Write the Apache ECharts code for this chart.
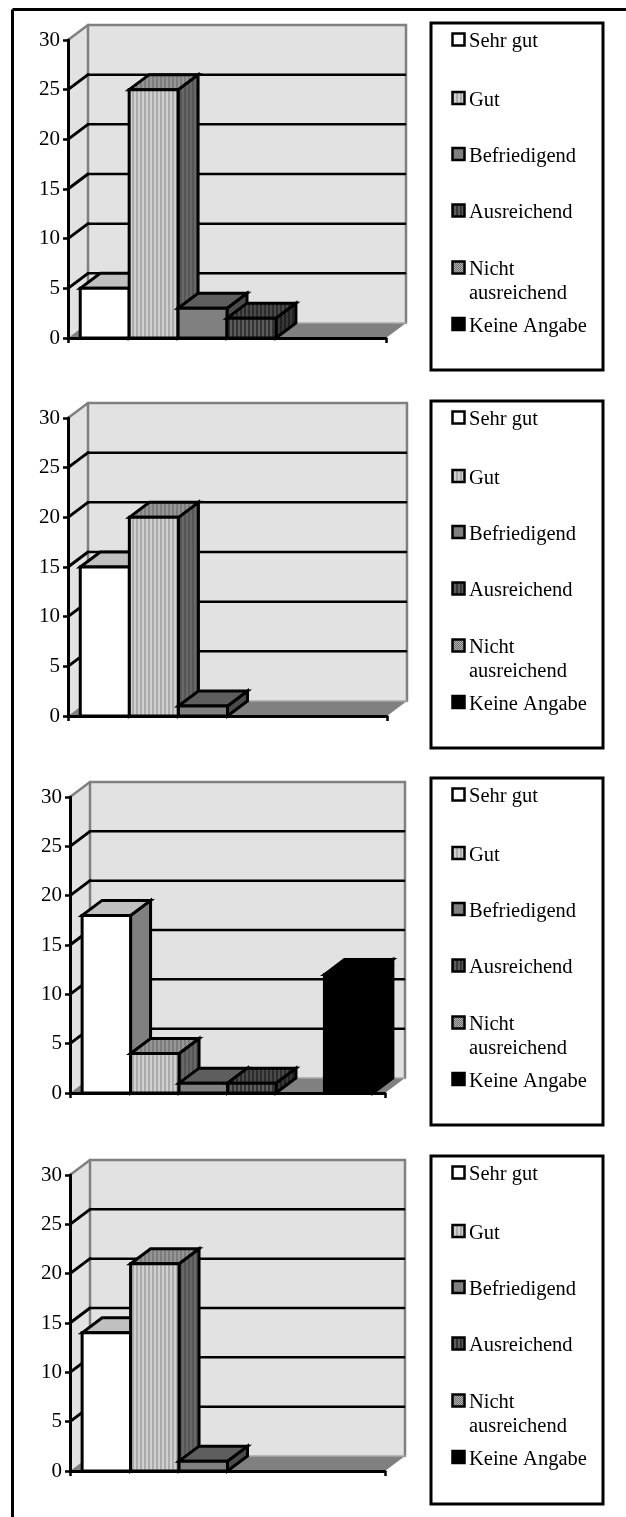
<!DOCTYPE html>
<html><head><meta charset="utf-8">
<style>html,body{margin:0;padding:0;background:#fff}#c{width:626px;height:1517px}</style>
<script src="https://cdn.jsdelivr.net/npm/echarts@6/dist/echarts.min.js"></script>
</head><body><div id="c"></div>
<script>
const ratings = ['Sehr gut','Gut','Befriedigend','Ausreichend','Nicht\nausreichend','Keine Angabe'];
const panel1Values = [5,25,3,2,0,0];
const panel2Values = [15,20,1,0,0,0];
const panel3Values = [18,4,1,1,0,12];
const panel4Values = [14,21,1,0,0,0];
const panelValues = [panel1Values,panel2Values,panel3Values,panel4Values];
const yTicks = [0,5,10,15,20,25];
const yMax = 30, yStep = 5;

// layout (pixels)
const layouts = [
  {x0:68,x1:386,yTop:40,yBot:338,boxTop:23,boxBot:370},
  {x0:68,x1:387,yTop:418,yBot:716,boxTop:401,boxBot:748},
  {x0:70,x1:385,yTop:797,yBot:1093,boxTop:778,boxBot:1125},
  {x0:70,x1:385,yTop:1175,yBot:1471,boxTop:1156,boxBot:1504}
];
const legendOffsets = [16.5,75,131,187.5,244.5,301];
const DX = 20, DY = -15, X_UNITS = 6.5, BAR_OFFSET = 0.25;
const FONT = '"Liberation Serif","Times New Roman",serif';

function pat(w,h,draw){
  const c=document.createElement('canvas');c.width=w;c.height=h;
  draw(c.getContext('2d'));
  return {image:c,repeat:'repeat'};
}
function vstripes(a,b){return pat(4,2,g=>{g.fillStyle=a;g.fillRect(0,0,4,2);g.fillStyle=b;g.fillRect(0,0,2,2);});}
function dither(a,b){return pat(2,2,g=>{g.fillStyle=a;g.fillRect(0,0,2,2);g.fillStyle=b;g.fillRect(0,0,1,1);g.fillRect(1,1,1,1);});}
const faces = [
  {front:'#ffffff',top:'#c0c0c0',side:'#808080',edge:'#000'},
  {front:vstripes('#d0d0d0','#ababab'),top:vstripes('#969696','#7c7c7c'),side:vstripes('#686868','#565656'),edge:'#000'},
  {front:dither('#868686','#7a7a7a'),top:dither('#646464','#585858'),side:dither('#505050','#464646'),edge:'#000'},
  {front:vstripes('#5c5c5c','#343434'),top:vstripes('#4a4a4a','#2c2c2c'),side:vstripes('#383838','#222222'),edge:'#000'},
  {front:dither('#b0b0b0','#707070'),top:dither('#808080','#505050'),side:dither('#606060','#404040'),edge:'#000'},
  {front:'#000',top:'#000',side:'#000',edge:'#000'}
];

function poly(points,fill,stroke,lw){
  return {type:'polygon',shape:{points},style:{fill,stroke:stroke||'none',lineWidth:lw||0,lineJoin:'miter'}};
}
function line(p,q,stroke,lw){
  return {type:'line',shape:{x1:p[0],y1:p[1],x2:q[0],y2:q[1]},style:{stroke,lineWidth:lw,lineCap:'round'}};
}
function renderWalls(params,api){
  const v = api.value(1);
  const a = api.coord([0,v]), b = api.coord([X_UNITS,v]);
  const backL=[a[0]+DX,a[1]+DY], backR=[b[0]+DX,b[1]+DY];
  const children=[];
  if(v===0){
    const t = api.coord([0,yMax]), tr = api.coord([X_UNITS,yMax]);
    const tL=[t[0]+DX,t[1]+DY], tR=[tr[0]+DX,tr[1]+DY];
    const GRAY='#808080';
    children.push(poly([t,tL,backL,a],'#e2e2e2'));
    children.push(poly([tL,tR,backR,backL],'#e2e2e2'));
    children.push(poly([a,backL,backR,b],'#808080'));
    children.push(line(tL,backL,GRAY,2.5),line(tL,tR,GRAY,2.5),line(tR,backR,GRAY,2.5),line(t,tL,GRAY,2.5),line(backL,backR,'#a8a8a8',1.5));
  } else {
    children.push(line(a,backL,'#000',3),line(backL,[backR[0]-1,backR[1]],'#000',2.5));
  }
  return {type:'group',children};
}
function makeBarRender(idx){
  return function(params,api){
    const i=api.value(0), v=api.value(1);
    if(!v) return null;
    const f=faces[idx];
    const a=api.coord([i+BAR_OFFSET,0]), b=api.coord([i+BAR_OFFSET+1,0]);
    const c=api.coord([i+BAR_OFFSET,v]), d=api.coord([i+BAR_OFFSET+1,v]);
    const off=p=>[p[0]+DX,p[1]+DY];
    return {type:'group',children:[
      poly([d,off(d),off(b),b],f.side,f.edge,3),
      poly([c,off(c),off(d),d],f.top,f.edge,3),
      poly([c,d,b,a],f.front,f.edge,3)
    ]};
  };
}

const grid=[],xAxis=[],yAxis=[],series=[],graphic=[];
// outer frame
graphic.push({type:'line',silent:true,z:20,shape:{x1:12.5,y1:9.5,x2:626,y2:9.5},style:{stroke:'#000',lineWidth:3}});
graphic.push({type:'line',silent:true,z:20,shape:{x1:12.5,y1:9.5,x2:12.5,y2:1517},style:{stroke:'#000',lineWidth:3}});

layouts.forEach((L,p)=>{
  grid.push({left:L.x0,top:L.yTop,width:L.x1-L.x0,height:L.yBot-L.yTop,containLabel:false});
  xAxis.push({type:'value',gridIndex:p,min:0,max:X_UNITS,interval:X_UNITS,z:10,
    axisLine:{show:true,onZero:false,lineStyle:{color:'#000',width:3}},
    axisTick:{show:true,inside:false,length:5,lineStyle:{color:'#000',width:2.5}},
    axisLabel:{show:false},splitLine:{show:false}});
  yAxis.push({type:'value',gridIndex:p,min:0,max:yMax,interval:yStep,z:10,
    axisLine:{show:true,lineStyle:{color:'#000',width:3}},
    axisTick:{show:true,length:5,lineStyle:{color:'#000',width:2.5}},
    axisLabel:{show:true,margin:8,color:'#000',fontFamily:FONT,fontSize:21,padding:[2,0,0,0]},
    splitLine:{show:false}});
  series.push({type:'custom',name:'Wand',xAxisIndex:p,yAxisIndex:p,silent:true,animation:false,z:1,
    data:yTicks.map(t=>[0,t]),renderItem:renderWalls,encode:{x:0,y:1}});
  ratings.forEach((name,r)=>{
    series.push({type:'custom',name:name,xAxisIndex:p,yAxisIndex:p,silent:true,animation:false,z:2+r,
      data:[[r,panelValues[p][r]]],renderItem:makeBarRender(r),encode:{x:0,y:1}});
  });
  // legend box
  graphic.push({type:'rect',silent:true,z:20,shape:{x:431,y:L.boxTop,width:172,height:L.boxBot-L.boxTop},
    style:{fill:'#fff',stroke:'#000',lineWidth:3}});
  ratings.forEach((name,r)=>{
    const cy=L.boxTop+legendOffsets[r];
    graphic.push({type:'rect',silent:true,z:21,shape:{x:452.5,y:cy-6,width:12,height:12},
      style:{fill:faces[r].front,stroke:'#000',lineWidth:2.5}});
    graphic.push({type:'text',silent:true,z:21,x:469,y:cy-9.5,
      style:{text:name,fill:'#000',fontFamily:FONT,fontSize:20.5,lineHeight:24,align:'left',verticalAlign:'top'}});
  });
});

const chart=echarts.init(document.getElementById('c'),null,{renderer:'canvas'});
chart.setOption({animation:false,backgroundColor:'#fff',grid,xAxis,yAxis,series,graphic,tooltip:{show:false}});
</script></body></html>
